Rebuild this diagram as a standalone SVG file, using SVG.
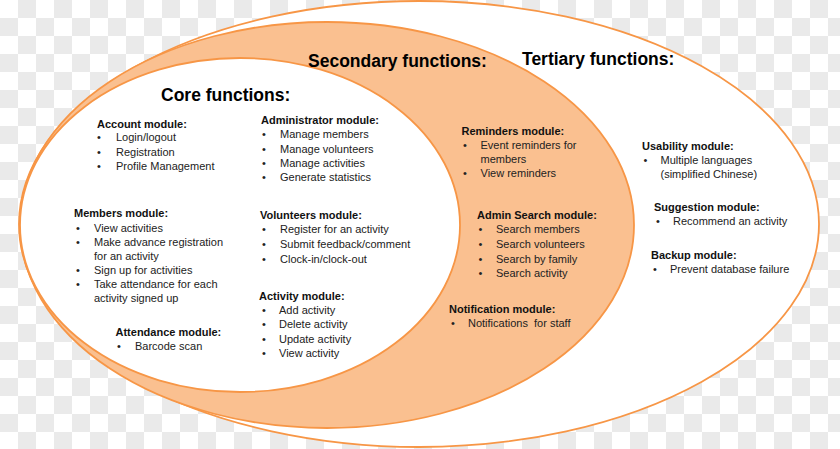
<svg xmlns="http://www.w3.org/2000/svg" width="840" height="449" viewBox="0 0 840 449">
<defs>
<pattern id="checker" x="0" y="0" width="36" height="36" patternUnits="userSpaceOnUse">
<rect width="36" height="36" fill="#ffffff"/>
<rect x="18" y="0" width="18" height="18" fill="#eaeaea"/>
<rect x="0" y="18" width="18" height="18" fill="#eaeaea"/>
</pattern>
<style>
.ring{stroke:#f79646;stroke-width:1.8}
.title{font-family:"Liberation Sans",Arial,sans-serif;font-weight:bold;font-size:17.5px;fill:#000}
.head{font-family:"Liberation Sans",Arial,sans-serif;font-weight:bold;font-size:11px;fill:#111}
.item{font-family:"Liberation Sans",Arial,sans-serif;font-size:11px;fill:#222}
</style>
</defs>
<rect width="840" height="449" fill="url(#checker)"/>
<g id="rings">
<ellipse id="tertiary-ring" class="ring" cx="419" cy="224" rx="400" ry="223" fill="#ffffff"/>
<ellipse id="secondary-ring" class="ring" cx="327" cy="225" rx="307" ry="203" fill="#fac090"/>
<ellipse id="core-ring" class="ring" cx="240" cy="225" rx="220" ry="167" fill="#ffffff"/>
</g>
<g id="connectors"/>
<g id="titles">
<text id="title-core" class="title" x="161" y="101">Core functions:</text>
<text id="title-secondary" class="title" x="308" y="67">Secondary functions:</text>
<text id="title-tertiary" class="title" x="522" y="65">Tertiary functions:</text>
</g>
<g id="account-module">
<text class="head" x="97" y="128">Account module:</text>
<text class="item" x="97" y="141">•</text><text class="item" x="116" y="141">Login/logout</text>
<text class="item" x="97" y="155.5">•</text><text class="item" x="116" y="155.5">Registration</text>
<text class="item" x="97" y="170">•</text><text class="item" x="116" y="170">Profile Management</text>
</g>
<g id="administrator-module">
<text class="head" x="261" y="124">Administrator module:</text>
<text class="item" x="262" y="138.3">•</text><text class="item" x="280" y="138.3">Manage members</text>
<text class="item" x="262" y="152.5">•</text><text class="item" x="280" y="152.5">Manage volunteers</text>
<text class="item" x="262" y="166.7">•</text><text class="item" x="280" y="166.7">Manage activities</text>
<text class="item" x="262" y="181">•</text><text class="item" x="280" y="181">Generate statistics</text>
</g>
<g id="members-module">
<text class="head" x="74" y="217">Members module:</text>
<text class="item" x="76" y="231.5">•</text><text class="item" x="94" y="231.5">View activities</text>
<text class="item" x="76" y="245.5">•</text><text class="item" x="94" y="245.5">Make advance registration</text>
<text class="item" x="94" y="259.5">for an activity</text>
<text class="item" x="76" y="273.5">•</text><text class="item" x="94" y="273.5">Sign up for activities</text>
<text class="item" x="76" y="288">•</text><text class="item" x="94" y="288">Take attendance for each</text>
<text class="item" x="94" y="302">activity signed up</text>
</g>
<g id="attendance-module">
<text class="head" x="115.5" y="335.5">Attendance module:</text>
<text class="item" x="117" y="350">•</text><text class="item" x="135" y="350">Barcode scan</text>
</g>
<g id="volunteers-module">
<text class="head" x="260" y="219">Volunteers module:</text>
<text class="item" x="262" y="233.3">•</text><text class="item" x="280" y="233.3">Register for an activity</text>
<text class="item" x="262" y="248">•</text><text class="item" x="280" y="248">Submit feedback/comment</text>
<text class="item" x="262" y="262.7">•</text><text class="item" x="280" y="262.7">Clock-in/clock-out</text>
</g>
<g id="activity-module">
<text class="head" x="259" y="299.5">Activity module:</text>
<text class="item" x="262" y="314">•</text><text class="item" x="279" y="314">Add activity</text>
<text class="item" x="262" y="328.3">•</text><text class="item" x="279" y="328.3">Delete activity</text>
<text class="item" x="262" y="342.7">•</text><text class="item" x="279" y="342.7">Update activity</text>
<text class="item" x="262" y="356.7">•</text><text class="item" x="279" y="356.7">View activity</text>
</g>
<g id="reminders-module">
<text class="head" x="461.5" y="135">Reminders module:</text>
<text class="item" x="463" y="149">•</text><text class="item" x="480.5" y="149">Event reminders for</text>
<text class="item" x="480.5" y="163.3">members</text>
<text class="item" x="463" y="177.3">•</text><text class="item" x="480.5" y="177.3">View reminders</text>
</g>
<g id="admin-search-module">
<text class="head" x="477" y="219">Admin Search module:</text>
<text class="item" x="478.5" y="233.3">•</text><text class="item" x="496" y="233.3">Search members</text>
<text class="item" x="478.5" y="248">•</text><text class="item" x="496" y="248">Search volunteers</text>
<text class="item" x="478.5" y="262.5">•</text><text class="item" x="496" y="262.5">Search by family</text>
<text class="item" x="478.5" y="277">•</text><text class="item" x="496" y="277">Search activity</text>
</g>
<g id="notification-module">
<text class="head" x="449" y="313.3">Notification module:</text>
<text class="item" x="451" y="327.3">•</text><text class="item" x="468" y="327.3" style="white-space:pre">Notifications  for staff</text>
</g>
<g id="usability-module">
<text class="head" x="642" y="150">Usability module:</text>
<text class="item" x="643.5" y="164">•</text><text class="item" x="660.5" y="164">Multiple languages</text>
<text class="item" x="660.5" y="178.3">(simplified Chinese)</text>
</g>
<g id="suggestion-module">
<text class="head" x="654" y="210.7">Suggestion module:</text>
<text class="item" x="656" y="225">•</text><text class="item" x="673" y="225">Recommend an activity</text>
</g>
<g id="backup-module">
<text class="head" x="651" y="259.3">Backup module:</text>
<text class="item" x="653" y="273.3">•</text><text class="item" x="670" y="273.3">Prevent database failure</text>
</g>
</svg>
